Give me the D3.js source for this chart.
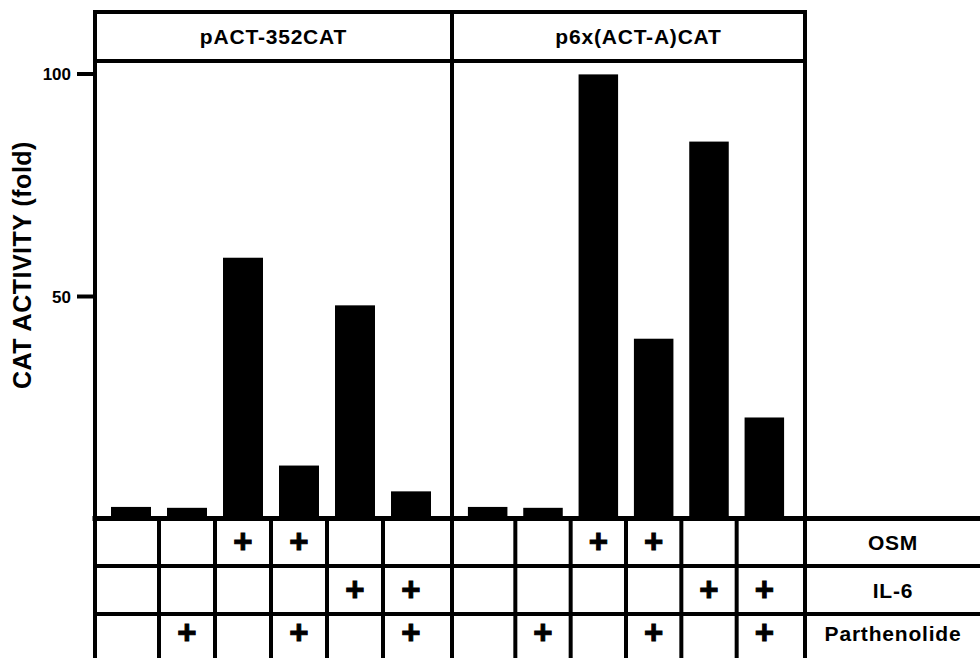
<!DOCTYPE html>
<html>
<head>
<meta charset="utf-8">
<script src="https://cdn.jsdelivr.net/npm/d3@7"></script>
<style>
  html, body { margin: 0; padding: 0; background: #fff; }
  svg { display: block; }
  text { font-family: "Liberation Sans", Arial, Helvetica, sans-serif; font-weight: bold; fill: #000; }
</style>
</head>
<body>
<svg id="chart" width="980" height="658"></svg>
<script>
// ---- data ----
const panelNames = ["pACT-352CAT", "p6x(ACT-A)CAT"];
const actValues = [2.6, 2.4, 58.6, 11.9, 47.9, 6.1];     // pACT-352CAT, fold
const actAValues = [2.6, 2.4, 99.8, 40.4, 84.7, 22.7];   // p6x(ACT-A)CAT, fold
const conditions = [0, 1, 2, 3, 4, 5];
const treatmentNames = ["OSM", "IL-6", "Parthenolide"];
const osmOn = [0, 0, 1, 1, 0, 0];
const il6On = [0, 0, 0, 0, 1, 1];
const parthOn = [0, 1, 0, 1, 0, 1];
const yTicks = [50, 100];
const yLabel = "CAT ACTIVITY (fold)";

const seriesValues = [actValues, actAValues];
const treatmentFlags = [osmOn, il6On, parthOn];

// ---- layout ----
const svg = d3.select("#chart");
const lw = 4;                  // frame line width
const frameLeft = 95, frameRight = 805, divider = 452;
const frameTop = 12, headerBottom = 61, baseline = 518.5;
const tableBottom = 658;
const rowLines = [baseline, 566, 614, tableBottom];
const labelColCenter = 893;

const y = d3.scaleLinear().domain([0, 100]).range([baseline, 73.5]);

const panelEdges = [[frameLeft, divider], [divider, frameRight]];
const xScales = panelEdges.map(e =>
    d3.scaleBand().domain(conditions).range([e[0] + 8, e[1] - 13])
        .paddingInner(0.286).paddingOuter(0.143));

// bars
seriesValues.forEach((vals, p) => {
    const x = xScales[p];
    svg.append("g").selectAll("rect")
        .data(vals)
        .join("rect")
        .attr("x", (d, i) => x(i))
        .attr("y", d => y(d))
        .attr("width", x.bandwidth())
        .attr("height", d => baseline - y(d))
        .attr("fill", "#000");
});

// frame around the two panels
const line = (x1, y1, x2, y2, w) => svg.append("line")
    .attr("x1", x1).attr("y1", y1).attr("x2", x2).attr("y2", y2)
    .attr("stroke", "#000").attr("stroke-width", w || lw).attr("stroke-linecap", "square");

line(frameLeft, frameTop, frameRight, frameTop);
line(frameLeft, headerBottom, frameRight, headerBottom);
line(frameLeft, frameTop, frameLeft, tableBottom);
line(divider, frameTop, divider, tableBottom);
line(frameRight, frameTop, frameRight, tableBottom);
line(frameLeft, baseline, 980, baseline, 5);

// panel headers
panelNames.forEach((name, p) => {
    const cx = (panelEdges[p][0] + panelEdges[p][1]) / 2 + (p === 0 ? 0 : 10);
    svg.append("text")
        .attr("x", cx)
        .attr("y", (frameTop + headerBottom) / 2 + 7)
        .attr("text-anchor", "middle")
        .style("font-size", "21px")
        .style("letter-spacing", "0.8px")
        .text(name);
});

// y axis ticks
const yAxis = d3.axisLeft(y).tickValues(yTicks).tickSize(18).tickPadding(6).tickFormat(d3.format("d"));
const gAxis = svg.append("g").attr("transform", `translate(${frameLeft},0)`).call(yAxis);
gAxis.select(".domain").remove();
gAxis.selectAll(".tick line").attr("stroke", "#000").attr("stroke-width", lw);
gAxis.selectAll(".tick text")
    .attr("dy", "0.36em")
    .style("font-size", "17px")
    .style("font-family", "'Liberation Sans', Arial, sans-serif")
    .style("font-weight", "bold");

svg.append("text")
    .attr("transform", `translate(31,265) rotate(-90)`)
    .attr("text-anchor", "middle")
    .style("font-size", "25px")
    .style("letter-spacing", "0.5px")
    .text(yLabel);

// treatment table
rowLines.slice(1, 3).forEach(ry => line(frameLeft, ry, 980, ry));

xScales.forEach(x => {
    const centers = conditions.map(c => x(c) + x.bandwidth() / 2);
    d3.pairs(centers).forEach(([a, b]) => line((a + b) / 2, baseline, (a + b) / 2, tableBottom));
});

treatmentFlags.forEach((flags, r) => {
    const cy = (rowLines[r] + rowLines[r + 1]) / 2 + (r === 2 ? -3 : 0);
    const onCols = conditions.filter(c => flags[c] === 1);
    xScales.forEach(x => {
        svg.append("g").selectAll("text")
            .data(onCols)
            .join("text")
            .attr("x", c => x(c) + x.bandwidth() / 2)
            .attr("y", cy + 11)
            .attr("text-anchor", "middle")
            .style("font-size", "33px")
            .style("stroke", "#000")
            .style("stroke-width", "1px")
            .text("+");
    });
    svg.append("text")
        .attr("x", labelColCenter)
        .attr("y", cy + 8)
        .attr("text-anchor", "middle")
        .style("font-size", "21px")
        .style("letter-spacing", "0.8px")
        .text(treatmentNames[r]);
});
</script>
</body>
</html>
